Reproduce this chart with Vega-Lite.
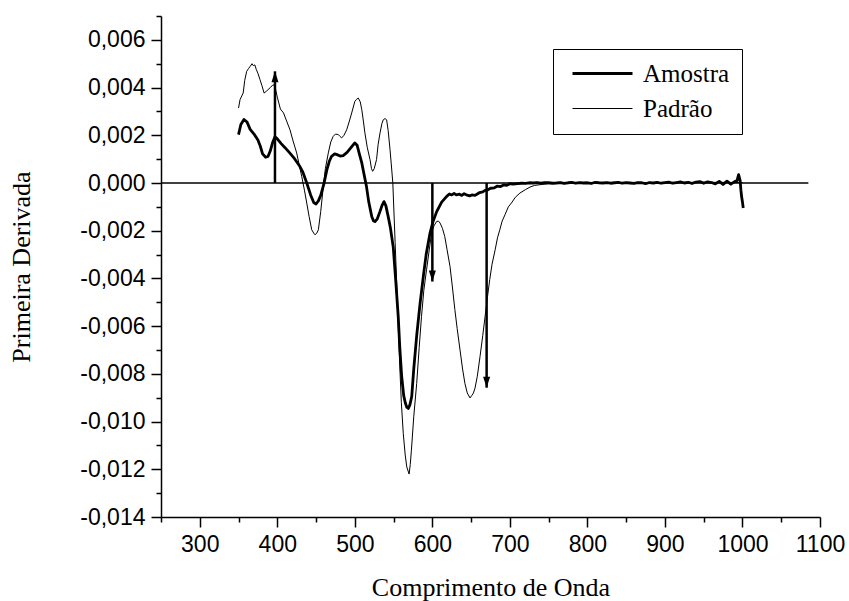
{
  "$schema": "https://vega.github.io/schema/vega-lite/v6.json",
  "autosize": {"type": "none"},
  "padding": {"left": 161, "top": 16, "right": 29, "bottom": 84},
  "width": 659,
  "height": 501,
  "background": "white",
  "config": {
    "view": {"stroke": null},
    "axis": {
      "domainColor": "black", "domainWidth": 1.5, "tickColor": "black", "tickWidth": 1.5,
      "labelColor": "black", "titleColor": "black", "grid": false,
      "labelFont": "Liberation Sans", "labelFontSize": 23,
      "titleFont": "Liberation Serif", "titleFontSize": 26, "titleFontWeight": "normal",
      "labelOverlap": false, "labelBound": false, "labelFlush": false
    },
    "legend": {
      "orient": "none", "legendX": 392, "legendY": 33,
      "strokeColor": "black", "fillColor": "white", "padding": 12,
      "symbolType": "M-3,0H3", "symbolSize": 400, "symbolStrokeColor": "black",
      "symbolFillColor": "transparent", "symbolOffset": 25,
      "labelFont": "Liberation Serif", "labelFontSize": 25, "labelColor": "black",
      "labelOffset": 28, "rowPadding": 9
    }
  },
  "resolve": {"axis": {"x": "independent", "y": "independent"}},
  "datasets": {
    "curvas": [
      {"serie":"Padrão","lambda":350,"valor":0.00314},
      {"serie":"Padrão","lambda":352,"valor":0.0035},
      {"serie":"Padrão","lambda":356,"valor":0.00377},
      {"serie":"Padrão","lambda":358,"valor":0.0043},
      {"serie":"Padrão","lambda":360.5,"valor":0.00468},
      {"serie":"Padrão","lambda":363,"valor":0.0048},
      {"serie":"Padrão","lambda":365,"valor":0.00489},
      {"serie":"Padrão","lambda":367.4,"valor":0.005},
      {"serie":"Padrão","lambda":369,"valor":0.00492},
      {"serie":"Padrão","lambda":371,"valor":0.00495},
      {"serie":"Padrão","lambda":373,"valor":0.00475},
      {"serie":"Padrão","lambda":375,"valor":0.0046},
      {"serie":"Padrão","lambda":377.7,"valor":0.00433},
      {"serie":"Padrão","lambda":380,"valor":0.0041},
      {"serie":"Padrão","lambda":383,"valor":0.00377},
      {"serie":"Padrão","lambda":386,"valor":0.00385},
      {"serie":"Padrão","lambda":388,"valor":0.00391},
      {"serie":"Padrão","lambda":391,"valor":0.004},
      {"serie":"Padrão","lambda":394.5,"valor":0.00412},
      {"serie":"Padrão","lambda":397,"valor":0.00405},
      {"serie":"Padrão","lambda":400,"valor":0.0036},
      {"serie":"Padrão","lambda":404,"valor":0.0031},
      {"serie":"Padrão","lambda":408,"valor":0.00294},
      {"serie":"Padrão","lambda":412,"valor":0.0026},
      {"serie":"Padrão","lambda":416.4,"valor":0.00223},
      {"serie":"Padrão","lambda":420,"valor":0.0018},
      {"serie":"Padrão","lambda":425,"valor":0.00126},
      {"serie":"Padrão","lambda":428,"valor":0.0008},
      {"serie":"Padrão","lambda":431.5,"valor":0.00028},
      {"serie":"Padrão","lambda":435,"valor":-0.0003},
      {"serie":"Padrão","lambda":438,"valor":-0.00084},
      {"serie":"Padrão","lambda":441,"valor":-0.0014},
      {"serie":"Padrão","lambda":444.4,"valor":-0.00196},
      {"serie":"Padrão","lambda":447,"valor":-0.0021},
      {"serie":"Padrão","lambda":448.6,"valor":-0.00217},
      {"serie":"Padrão","lambda":451,"valor":-0.0021},
      {"serie":"Padrão","lambda":453,"valor":-0.00196},
      {"serie":"Padrão","lambda":456,"valor":-0.0012},
      {"serie":"Padrão","lambda":459.4,"valor":-0.00014},
      {"serie":"Padrão","lambda":462,"valor":0.0006},
      {"serie":"Padrão","lambda":465.8,"valor":0.00126},
      {"serie":"Padrão","lambda":469,"valor":0.00172},
      {"serie":"Padrão","lambda":472,"valor":0.00195},
      {"serie":"Padrão","lambda":475,"valor":0.00205},
      {"serie":"Padrão","lambda":478.7,"valor":0.00203},
      {"serie":"Padrão","lambda":481,"valor":0.00195},
      {"serie":"Padrão","lambda":483,"valor":0.00189},
      {"serie":"Padrão","lambda":486,"valor":0.002},
      {"serie":"Padrão","lambda":489.5,"valor":0.00223},
      {"serie":"Padrão","lambda":493,"valor":0.0026},
      {"serie":"Padrão","lambda":496,"valor":0.00294},
      {"serie":"Padrão","lambda":500,"valor":0.00342},
      {"serie":"Padrão","lambda":502,"valor":0.0035},
      {"serie":"Padrão","lambda":504.5,"valor":0.00356},
      {"serie":"Padrão","lambda":507,"valor":0.0034},
      {"serie":"Padrão","lambda":509,"valor":0.00307},
      {"serie":"Padrão","lambda":511,"valor":0.0026},
      {"serie":"Padrão","lambda":513,"valor":0.0021},
      {"serie":"Padrão","lambda":516,"valor":0.0015},
      {"serie":"Padrão","lambda":519.6,"valor":0.00098},
      {"serie":"Padrão","lambda":521.5,"valor":0.0006},
      {"serie":"Padrão","lambda":523,"valor":0.00049},
      {"serie":"Padrão","lambda":525,"valor":0.0006},
      {"serie":"Padrão","lambda":528,"valor":0.00098},
      {"serie":"Padrão","lambda":530,"valor":0.0016},
      {"serie":"Padrão","lambda":532.5,"valor":0.0021},
      {"serie":"Padrão","lambda":535,"valor":0.0025},
      {"serie":"Padrão","lambda":536.7,"valor":0.00265},
      {"serie":"Padrão","lambda":539,"valor":0.0027},
      {"serie":"Padrão","lambda":541,"valor":0.00265},
      {"serie":"Padrão","lambda":543,"valor":0.0022},
      {"serie":"Padrão","lambda":545.4,"valor":0.0014},
      {"serie":"Padrão","lambda":547,"valor":0.0008},
      {"serie":"Padrão","lambda":549,"valor":0.0},
      {"serie":"Padrão","lambda":552,"valor":-0.0025},
      {"serie":"Padrão","lambda":554,"valor":-0.0042},
      {"serie":"Padrão","lambda":556,"valor":-0.006},
      {"serie":"Padrão","lambda":558,"valor":-0.0077},
      {"serie":"Padrão","lambda":560,"valor":-0.0092},
      {"serie":"Padrão","lambda":562.5,"valor":-0.0105},
      {"serie":"Padrão","lambda":565,"valor":-0.0114},
      {"serie":"Padrão","lambda":567,"valor":-0.0119},
      {"serie":"Padrão","lambda":570,"valor":-0.0122},
      {"serie":"Padrão","lambda":571.5,"valor":-0.0118},
      {"serie":"Padrão","lambda":573,"valor":-0.0112},
      {"serie":"Padrão","lambda":576,"valor":-0.0098},
      {"serie":"Padrão","lambda":579.8,"valor":-0.0084},
      {"serie":"Padrão","lambda":583,"valor":-0.0069},
      {"serie":"Padrão","lambda":586,"valor":-0.0056},
      {"serie":"Padrão","lambda":589,"valor":-0.0045},
      {"serie":"Padrão","lambda":592.5,"valor":-0.00364},
      {"serie":"Padrão","lambda":596,"valor":-0.0028},
      {"serie":"Padrão","lambda":599,"valor":-0.0021},
      {"serie":"Padrão","lambda":602,"valor":-0.0018},
      {"serie":"Padrão","lambda":605.6,"valor":-0.00161},
      {"serie":"Padrão","lambda":608,"valor":-0.0016},
      {"serie":"Padrão","lambda":610,"valor":-0.00168},
      {"serie":"Padrão","lambda":613,"valor":-0.0019},
      {"serie":"Padrão","lambda":616,"valor":-0.00224},
      {"serie":"Padrão","lambda":619,"valor":-0.0028},
      {"serie":"Padrão","lambda":622.8,"valor":-0.0035},
      {"serie":"Padrão","lambda":626,"valor":-0.0044},
      {"serie":"Padrão","lambda":629,"valor":-0.0053},
      {"serie":"Padrão","lambda":632,"valor":-0.0061},
      {"serie":"Padrão","lambda":635.7,"valor":-0.007},
      {"serie":"Padrão","lambda":639,"valor":-0.0078},
      {"serie":"Padrão","lambda":642,"valor":-0.0084},
      {"serie":"Padrão","lambda":645,"valor":-0.0088},
      {"serie":"Padrão","lambda":648.6,"valor":-0.00901},
      {"serie":"Padrão","lambda":651,"valor":-0.0089},
      {"serie":"Padrão","lambda":653,"valor":-0.0088},
      {"serie":"Padrão","lambda":655,"valor":-0.0086},
      {"serie":"Padrão","lambda":658,"valor":-0.0081},
      {"serie":"Padrão","lambda":661.5,"valor":-0.00727},
      {"serie":"Padrão","lambda":665,"valor":-0.0064},
      {"serie":"Padrão","lambda":668,"valor":-0.0056},
      {"serie":"Padrão","lambda":671,"valor":-0.0048},
      {"serie":"Padrão","lambda":674,"valor":-0.00405},
      {"serie":"Padrão","lambda":677,"valor":-0.0034},
      {"serie":"Padrão","lambda":681,"valor":-0.0028},
      {"serie":"Padrão","lambda":684,"valor":-0.0023},
      {"serie":"Padrão","lambda":687,"valor":-0.00196},
      {"serie":"Padrão","lambda":690,"valor":-0.0016},
      {"serie":"Padrão","lambda":693.7,"valor":-0.00133},
      {"serie":"Padrão","lambda":698,"valor":-0.001},
      {"serie":"Padrão","lambda":702,"valor":-0.00084},
      {"serie":"Padrão","lambda":707,"valor":-0.0006},
      {"serie":"Padrão","lambda":713,"valor":-0.00042},
      {"serie":"Padrão","lambda":720,"valor":-0.00028},
      {"serie":"Padrão","lambda":726,"valor":-0.00017},
      {"serie":"Padrão","lambda":732,"valor":-0.0001},
      {"serie":"Padrão","lambda":739,"valor":-0.00007},
      {"serie":"Padrão","lambda":750,"valor":-0.00003},
      {"serie":"Padrão","lambda":770,"valor":0.0},
      {"serie":"Padrão","lambda":800,"valor":0.00001},
      {"serie":"Padrão","lambda":850,"valor":0.00002},
      {"serie":"Padrão","lambda":900,"valor":0.00002},
      {"serie":"Padrão","lambda":950,"valor":0.00003},
      {"serie":"Padrão","lambda":1000,"valor":0.00002},
      {"serie":"Amostra","lambda":350,"valor":0.00203},
      {"serie":"Amostra","lambda":353,"valor":0.00245},
      {"serie":"Amostra","lambda":357,"valor":0.00266},
      {"serie":"Amostra","lambda":361,"valor":0.00255},
      {"serie":"Amostra","lambda":365,"valor":0.00225},
      {"serie":"Amostra","lambda":370,"valor":0.00205},
      {"serie":"Amostra","lambda":375,"valor":0.0018},
      {"serie":"Amostra","lambda":378,"valor":0.00155},
      {"serie":"Amostra","lambda":381,"valor":0.00122},
      {"serie":"Amostra","lambda":385,"valor":0.00108},
      {"serie":"Amostra","lambda":388,"valor":0.00111},
      {"serie":"Amostra","lambda":391,"valor":0.00135},
      {"serie":"Amostra","lambda":394,"valor":0.0017},
      {"serie":"Amostra","lambda":397,"valor":0.00194},
      {"serie":"Amostra","lambda":400,"valor":0.00185},
      {"serie":"Amostra","lambda":405,"valor":0.00165},
      {"serie":"Amostra","lambda":410,"valor":0.00148},
      {"serie":"Amostra","lambda":416,"valor":0.00126},
      {"serie":"Amostra","lambda":422,"valor":0.00103},
      {"serie":"Amostra","lambda":429,"valor":0.0007},
      {"serie":"Amostra","lambda":433,"valor":0.00045},
      {"serie":"Amostra","lambda":438,"valor":0.0},
      {"serie":"Amostra","lambda":443,"valor":-0.0005},
      {"serie":"Amostra","lambda":447,"valor":-0.00082},
      {"serie":"Amostra","lambda":450,"valor":-0.00088},
      {"serie":"Amostra","lambda":453,"valor":-0.00075},
      {"serie":"Amostra","lambda":456,"valor":-0.00052},
      {"serie":"Amostra","lambda":460,"valor":-0.00005},
      {"serie":"Amostra","lambda":464,"valor":0.00056},
      {"serie":"Amostra","lambda":467,"valor":0.0009},
      {"serie":"Amostra","lambda":470,"valor":0.00112},
      {"serie":"Amostra","lambda":474,"valor":0.00122},
      {"serie":"Amostra","lambda":477,"valor":0.00119},
      {"serie":"Amostra","lambda":481,"valor":0.00113},
      {"serie":"Amostra","lambda":485,"valor":0.00115},
      {"serie":"Amostra","lambda":490,"valor":0.00128},
      {"serie":"Amostra","lambda":495,"valor":0.00148},
      {"serie":"Amostra","lambda":500,"valor":0.00168},
      {"serie":"Amostra","lambda":503,"valor":0.00158},
      {"serie":"Amostra","lambda":506,"valor":0.0012},
      {"serie":"Amostra","lambda":509,"valor":0.00084},
      {"serie":"Amostra","lambda":512,"valor":0.00035},
      {"serie":"Amostra","lambda":515,"valor":-0.00014},
      {"serie":"Amostra","lambda":518,"valor":-0.0008},
      {"serie":"Amostra","lambda":521.8,"valor":-0.0014},
      {"serie":"Amostra","lambda":524,"valor":-0.00158},
      {"serie":"Amostra","lambda":526,"valor":-0.00162},
      {"serie":"Amostra","lambda":529,"valor":-0.0015},
      {"serie":"Amostra","lambda":532.5,"valor":-0.00119},
      {"serie":"Amostra","lambda":535,"valor":-0.00095},
      {"serie":"Amostra","lambda":537.6,"valor":-0.00078},
      {"serie":"Amostra","lambda":540,"valor":-0.00095},
      {"serie":"Amostra","lambda":543,"valor":-0.0014},
      {"serie":"Amostra","lambda":546,"valor":-0.0019},
      {"serie":"Amostra","lambda":549.6,"valor":-0.0027},
      {"serie":"Amostra","lambda":553,"valor":-0.0042},
      {"serie":"Amostra","lambda":556,"valor":-0.0056},
      {"serie":"Amostra","lambda":558,"valor":-0.0069},
      {"serie":"Amostra","lambda":560.4,"valor":-0.0081},
      {"serie":"Amostra","lambda":563,"valor":-0.0089},
      {"serie":"Amostra","lambda":565,"valor":-0.0092},
      {"serie":"Amostra","lambda":567,"valor":-0.0094},
      {"serie":"Amostra","lambda":569,"valor":-0.00945},
      {"serie":"Amostra","lambda":571,"valor":-0.0093},
      {"serie":"Amostra","lambda":573.4,"valor":-0.00895},
      {"serie":"Amostra","lambda":576,"valor":-0.0078},
      {"serie":"Amostra","lambda":579.8,"valor":-0.0064},
      {"serie":"Amostra","lambda":584,"valor":-0.0051},
      {"serie":"Amostra","lambda":588.4,"valor":-0.0039},
      {"serie":"Amostra","lambda":592,"valor":-0.003},
      {"serie":"Amostra","lambda":597,"valor":-0.0021},
      {"serie":"Amostra","lambda":601,"valor":-0.0016},
      {"serie":"Amostra","lambda":605.6,"valor":-0.0012},
      {"serie":"Amostra","lambda":612,"valor":-0.0008},
      {"serie":"Amostra","lambda":618.5,"valor":-0.00056},
      {"serie":"Amostra","lambda":622,"valor":-0.00046},
      {"serie":"Amostra","lambda":625,"valor":-0.0005},
      {"serie":"Amostra","lambda":628,"valor":-0.00044},
      {"serie":"Amostra","lambda":631,"valor":-0.0005},
      {"serie":"Amostra","lambda":635,"valor":-0.00047},
      {"serie":"Amostra","lambda":638,"valor":-0.00052},
      {"serie":"Amostra","lambda":641,"valor":-0.00045},
      {"serie":"Amostra","lambda":645,"valor":-0.00051},
      {"serie":"Amostra","lambda":648,"valor":-0.00054},
      {"serie":"Amostra","lambda":651,"valor":-0.0005},
      {"serie":"Amostra","lambda":655,"valor":-0.00052},
      {"serie":"Amostra","lambda":658,"valor":-0.00046},
      {"serie":"Amostra","lambda":661,"valor":-0.0004},
      {"serie":"Amostra","lambda":665,"valor":-0.00037},
      {"serie":"Amostra","lambda":668,"valor":-0.00031},
      {"serie":"Amostra","lambda":671,"valor":-0.0003},
      {"serie":"Amostra","lambda":675,"valor":-0.00022},
      {"serie":"Amostra","lambda":680,"valor":-0.0002},
      {"serie":"Amostra","lambda":684,"valor":-0.00013},
      {"serie":"Amostra","lambda":688,"valor":-0.00015},
      {"serie":"Amostra","lambda":692,"valor":-0.00008},
      {"serie":"Amostra","lambda":696,"valor":-0.0001},
      {"serie":"Amostra","lambda":700,"valor":-0.00003},
      {"serie":"Amostra","lambda":704,"valor":-0.00005},
      {"serie":"Amostra","lambda":710,"valor":-0.00003},
      {"serie":"Amostra","lambda":715,"valor":-0.00001},
      {"serie":"Amostra","lambda":720,"valor":-0.00002},
      {"serie":"Amostra","lambda":725,"valor":0.00001},
      {"serie":"Amostra","lambda":730,"valor":0.0},
      {"serie":"Amostra","lambda":735,"valor":0.00002},
      {"serie":"Amostra","lambda":740,"valor":-0.00001},
      {"serie":"Amostra","lambda":745,"valor":0.00002},
      {"serie":"Amostra","lambda":750,"valor":0.00001},
      {"serie":"Amostra","lambda":755,"valor":-0.00001},
      {"serie":"Amostra","lambda":760,"valor":0.0},
      {"serie":"Amostra","lambda":765,"valor":0.00002},
      {"serie":"Amostra","lambda":770,"valor":-0.00002},
      {"serie":"Amostra","lambda":775,"valor":0.00001},
      {"serie":"Amostra","lambda":780,"valor":0.00003},
      {"serie":"Amostra","lambda":785,"valor":-0.00001},
      {"serie":"Amostra","lambda":790,"valor":0.00002},
      {"serie":"Amostra","lambda":795,"valor":0.0},
      {"serie":"Amostra","lambda":800,"valor":0.00001},
      {"serie":"Amostra","lambda":805,"valor":-0.00002},
      {"serie":"Amostra","lambda":810,"valor":0.00003},
      {"serie":"Amostra","lambda":815,"valor":0.00001},
      {"serie":"Amostra","lambda":820,"valor":0.0},
      {"serie":"Amostra","lambda":825,"valor":0.00002},
      {"serie":"Amostra","lambda":830,"valor":-0.00001},
      {"serie":"Amostra","lambda":835,"valor":0.00001},
      {"serie":"Amostra","lambda":840,"valor":0.00003},
      {"serie":"Amostra","lambda":845,"valor":-0.00001},
      {"serie":"Amostra","lambda":850,"valor":0.00002},
      {"serie":"Amostra","lambda":855,"valor":0.0},
      {"serie":"Amostra","lambda":860,"valor":-0.00002},
      {"serie":"Amostra","lambda":865,"valor":0.00002},
      {"serie":"Amostra","lambda":870,"valor":0.00001},
      {"serie":"Amostra","lambda":875,"valor":-0.00003},
      {"serie":"Amostra","lambda":880,"valor":0.00002},
      {"serie":"Amostra","lambda":885,"valor":0.0},
      {"serie":"Amostra","lambda":890,"valor":0.00003},
      {"serie":"Amostra","lambda":895,"valor":-0.00001},
      {"serie":"Amostra","lambda":900,"valor":0.00002},
      {"serie":"Amostra","lambda":905,"valor":0.00004},
      {"serie":"Amostra","lambda":910,"valor":-0.00001},
      {"serie":"Amostra","lambda":915,"valor":0.00002},
      {"serie":"Amostra","lambda":920,"valor":0.00005},
      {"serie":"Amostra","lambda":925,"valor":0.0},
      {"serie":"Amostra","lambda":930,"valor":0.00003},
      {"serie":"Amostra","lambda":935,"valor":-0.00002},
      {"serie":"Amostra","lambda":940,"valor":0.00004},
      {"serie":"Amostra","lambda":945,"valor":0.00006},
      {"serie":"Amostra","lambda":950,"valor":-0.00001},
      {"serie":"Amostra","lambda":955,"valor":0.00005},
      {"serie":"Amostra","lambda":960,"valor":0.00002},
      {"serie":"Amostra","lambda":965,"valor":-0.00004},
      {"serie":"Amostra","lambda":970,"valor":0.00007},
      {"serie":"Amostra","lambda":975,"valor":-0.00006},
      {"serie":"Amostra","lambda":980,"valor":0.00008},
      {"serie":"Amostra","lambda":985,"valor":-0.00005},
      {"serie":"Amostra","lambda":990,"valor":0.00006},
      {"serie":"Amostra","lambda":993,"valor":0.0001},
      {"serie":"Amostra","lambda":995,"valor":0.00035},
      {"serie":"Amostra","lambda":997,"valor":0.0001},
      {"serie":"Amostra","lambda":998,"valor":-0.0003},
      {"serie":"Amostra","lambda":999,"valor":-0.0006},
      {"serie":"Amostra","lambda":1000,"valor":-0.0008},
      {"serie":"Amostra","lambda":1001,"valor":-0.00105}
    ],
    "setas": [
      {"lambda": 397, "base": 0, "ponta": 0.00468, "dir": "up"},
      {"lambda": 600, "base": 0, "ponta": -0.00413, "dir": "down"},
      {"lambda": 670, "base": 0, "ponta": -0.00858, "dir": "down"}
    ],
    "zero": [{"de": 250, "ate": 1085, "valor": 0}]
  },
  "layer": [
    {
      "data": {"name": "zero"},
      "mark": {"type": "rule", "color": "black", "strokeWidth": 1.5},
      "encoding": {
        "x": {"field": "de", "type": "quantitative",
          "scale": {"domain": [250, 1100], "nice": false, "zero": false},
          "axis": {
            "orient": "bottom",
            "title": "Comprimento de Onda",
            "values": [300,400,500,600,700,800,900,1000,1100],
            "format": "d",
            "tickSize": 10,
            "labelPadding": 6, "titlePadding": 18
          }
        },
        "x2": {"field": "ate"},
        "y": {"field": "valor", "type": "quantitative",
          "scale": {"domain": [-0.014, 0.007], "nice": false, "zero": false},
          "axis": {
            "orient": "left",
            "title": "Primeira Derivada",
            "values": [-0.014,-0.012,-0.01,-0.008,-0.006,-0.004,-0.002,0,0.002,0.004,0.006],
            "labelExpr": "(datum.value < -0.0000001 ? '-' : '') + replace(format(abs(datum.value), '.3f'), '.', ',')",
            "tickSize": 10,
            "labelPadding": 6, "titlePadding": 45
          }
        }
      }
    },
    {
      "data": {"name": "curvas"},
      "transform": [{"filter": "datum.serie === 'Padrão'"}],
      "mark": {"type": "line", "color": "black", "strokeJoin": "round"},
      "encoding": {
        "x": {"field": "lambda", "type": "quantitative",
          "axis": {"orient": "bottom", "values": [250,350,450,550,650,750,850,950,1050], "tickSize": 5, "labels": false, "domain": false, "title": null}
        },
        "y": {"field": "valor", "type": "quantitative",
          "axis": {"orient": "left", "values": [-0.013,-0.011,-0.009,-0.007,-0.005,-0.003,-0.001,0.001,0.003,0.005,0.007], "tickSize": 5, "labels": false, "domain": false, "title": null}
        },
        "strokeWidth": {"field": "serie", "type": "ordinal",
          "scale": {"domain": ["Amostra", "Padrão"], "range": [2.8, 1]},
          "legend": {"title": null}
        }
      }
    },
    {
      "data": {"name": "curvas"},
      "transform": [{"filter": "datum.serie === 'Amostra'"}],
      "mark": {"type": "line", "color": "black", "strokeJoin": "round"},
      "encoding": {
        "x": {"field": "lambda", "type": "quantitative", "axis": null},
        "y": {"field": "valor", "type": "quantitative", "axis": null},
        "strokeWidth": {"field": "serie", "type": "ordinal"}
      }
    },
    {
      "data": {"name": "setas"},
      "mark": {"type": "rule", "color": "black", "strokeWidth": 2.5},
      "encoding": {
        "x": {"field": "lambda", "type": "quantitative", "axis": null},
        "y": {"field": "base", "type": "quantitative", "axis": null},
        "y2": {"field": "ponta"}
      }
    },
    {
      "data": {"name": "setas"},
      "transform": [{"filter": "datum.dir === 'up'"}],
      "mark": {"type": "point", "shape": "M0,0L-0.7,2.2L0.7,2.2Z", "filled": true, "color": "black", "size": 100, "opacity": 1},
      "encoding": {
        "x": {"field": "lambda", "type": "quantitative", "axis": null},
        "y": {"field": "ponta", "type": "quantitative", "axis": null}
      }
    },
    {
      "data": {"name": "setas"},
      "transform": [{"filter": "datum.dir === 'down'"}],
      "mark": {"type": "point", "shape": "M0,0L-0.7,-2.2L0.7,-2.2Z", "filled": true, "color": "black", "size": 100, "opacity": 1},
      "encoding": {
        "x": {"field": "lambda", "type": "quantitative", "axis": null},
        "y": {"field": "ponta", "type": "quantitative", "axis": null}
      }
    }
  ]
}
